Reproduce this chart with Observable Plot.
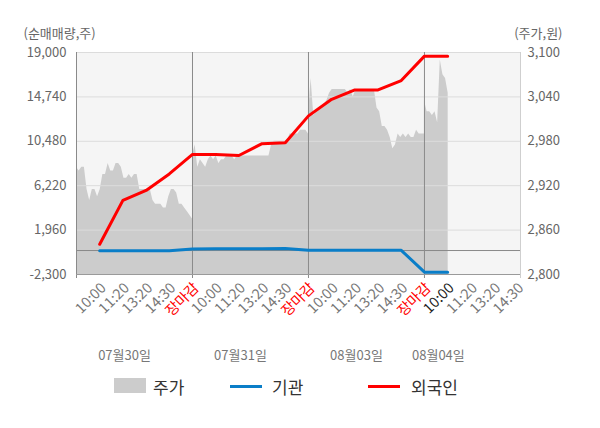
<!DOCTYPE html>
<html><head><meta charset="utf-8">
<script src="https://cdn.jsdelivr.net/npm/d3@7"></script>
<script src="https://cdn.jsdelivr.net/npm/@observablehq/plot@0.6"></script>
<style>
body{margin:0;background:#fff;font-family:"Noto Sans CJK KR","Noto Sans",sans-serif;}
#chart{width:600px;}
.legend{position:relative;height:58px;width:600px;}
.legend .sw{position:absolute;}
.legend .lb{position:absolute;font-size:17px;line-height:20px;color:#333;}
</style></head><body><div id="chart"></div>
<script>
const days = ["07월30일","07월31일","08월03일","08월04일"];
const slotLabels = ["10:00","11:20","13:20","14:30","장마감"];
const volTicks = [-2300, 1960, 6220, 10480, 14740, 19000];
const priceTicks = [2800, 2860, 2920, 2980, 3040, 3100];

// 주가 (원), sampled evenly through each session
const priceDay1 = [2945,2940,2945,2945,2915,2900,2915,2915,2905,2915,2935,2935,2950,2940,2940,2950,2950,2945,2930,2930,2935,2930,2935,2935,2915,2915,2915,2915,2915,2900,2895,2895,2895,2890,2890,2905,2915,2915,2910,2895,2895,2890,2885,2880,2875];
const priceDay2 = [2960,2975,2945,2955,2950,2945,2955,2960,2955,2960,2950,2955,2955,2960,2960,2960,2955,2960,2960,2960,2960,2960,2960,2960,2960,2960,2960,2960,2960,2960,2975,2980,2980,2980,2980,2980,2980,2990,2990,2990,2990,2995,2995,2995,2990];
const priceDay3 = [3015,3065,3015,3020,3025,3025,3030,3035,3045,3050,3050,3050,3050,3050,3050,3045,3050,3040,3050,3050,3050,3050,3050,3050,3050,3050,3025,3020,3000,3000,2995,2985,2970,2975,2990,2985,2990,2985,2990,2985,2985,2995,2990,2990,2990];
const priceDay4 = [3035,3020,3020,3015,3020,3005,3090,3070,3065,3045];

// 순매매량 (주) at each time tick
const foreign = [600,4810,5760,7350,9220,9220,9120,10250,10350,12920,14510,15410,15410,16310,18650,18650];
const institution = [-20,-20,-20,-10,150,170,170,170,200,20,20,20,20,20,-2080,-2080];

const xMax = 19.14;
const toV = p => -2300 + (p - 2800) / 300 * 21300;
const toP = v => Math.round(2800 + (v + 2300) / 21300 * 300);
const fmt = v => Math.round(v).toLocaleString("en-US");

const priceRows = [priceDay1, priceDay2, priceDay3, priceDay4]
  .flatMap((arr, d) => arr.map((p, i) => ({x: d * 5 + i * 5 / 44, v: toV(p)})));
const foreignRows = foreign.map((v, i) => ({x: i + 1, v}));
const instRows = institution.map((v, i) => ({x: i + 1, v}));
const xTicks = [];
days.forEach((day, d) => slotLabels.forEach((label, j) => {
  const x = d * 5 + j + 1;
  if (x <= 19) xTicks.push({x, label, kind: label === "장마감" ? "close" : (d === 3 && j === 0 ? "now" : "normal")});
}));
const dateRows = days.map((label, d) => ({x: Math.min(d * 5 + 2.07, 15.6), label}));

const textStyle = {fontSize: 13};
const chart = Plot.plot({
  width: 600, height: 370,
  marginTop: 52, marginBottom: 96, marginLeft: 76, marginRight: 80,
  style: {fontFamily: "'Noto Sans CJK KR','Noto Sans',sans-serif", fontSize: "13px", background: "#fff", overflow: "visible"},
  x: {domain: [0, xMax], axis: null},
  y: {domain: [-2300, 19000]},
  marks: [
    Plot.frame({fill: "#f5f5f5", stroke: "none"}),
    Plot.areaY(priceRows, {x: "x", y1: -2300, y2: "v", fill: "#cccccc"}),
    Plot.ruleY(volTicks.filter(v => v > -2300), {stroke: "#dcdcdc"}),
    Plot.ruleY([0], {stroke: "#8a8a8a"}),
    Plot.ruleX([5, 10, 15], {stroke: "#8a8a8a", insetBottom: -4}),
    Plot.ruleX([0], {stroke: "#8a8a8a", insetBottom: -4}),
    Plot.ruleX([xMax], {stroke: "#cfcfcf", insetBottom: -4}),
    Plot.ruleY([-2300], {stroke: "#9a9a9a"}),
    Plot.line(instRows, {x: "x", y: "v", stroke: "#0a7ec8", strokeWidth: 3}),
    Plot.line(foreignRows, {x: "x", y: "v", stroke: "#ff0000", strokeWidth: 3}),
    Plot.axisY({ticks: volTicks, tickFormat: fmt, tickSize: 0, tickPadding: 10, color: "#666", fontSize: 13, label: null}),
    Plot.axisY({anchor: "right", ticks: priceTicks.map(toV), tickFormat: v => fmt(toP(v)), tickSize: 0, tickPadding: 7, color: "#666", fontSize: 13, label: null}),
    ...[["normal", "#777"], ["close", "#ff0000"], ["now", "#222"]].map(([kind, fill]) =>
      Plot.text(xTicks.filter(t => t.kind === kind), {x: "x", text: "label", frameAnchor: "bottom", rotate: -45, textAnchor: "end", lineAnchor: "middle", dx: 4, dy: 11, fill, fontSize: 14.5})),
    Plot.text(dateRows, {x: "x", text: "label", frameAnchor: "bottom", lineAnchor: "middle", dy: 81, fill: "#777", ...textStyle}),
    Plot.text(["(순매매량,주)"], {frameAnchor: "top-left", lineAnchor: "middle", dx: -53, dy: -19, textAnchor: "start", fill: "#666", ...textStyle}),
    Plot.text(["(주가,원)"], {frameAnchor: "top-right", lineAnchor: "middle", dx: 42, dy: -19, textAnchor: "end", fill: "#666", ...textStyle})
  ]
});
const root = document.getElementById("chart");
root.appendChild(chart);
const legend = document.createElement("div");
legend.className = "legend";
legend.innerHTML = `
  <div class="sw" style="left:114px;top:8px;width:32px;height:15px;background:#cccccc"></div>
  <div class="lb" style="left:153px;top:6.5px">주가</div>
  <div class="sw" style="left:230px;top:15px;width:32px;height:3px;background:#0a7ec8"></div>
  <div class="lb" style="left:272px;top:6.5px">기관</div>
  <div class="sw" style="left:368px;top:15px;width:32px;height:3px;background:#ff0000"></div>
  <div class="lb" style="left:411px;top:6.5px">외국인</div>`;
root.appendChild(legend);
</script></body></html>
